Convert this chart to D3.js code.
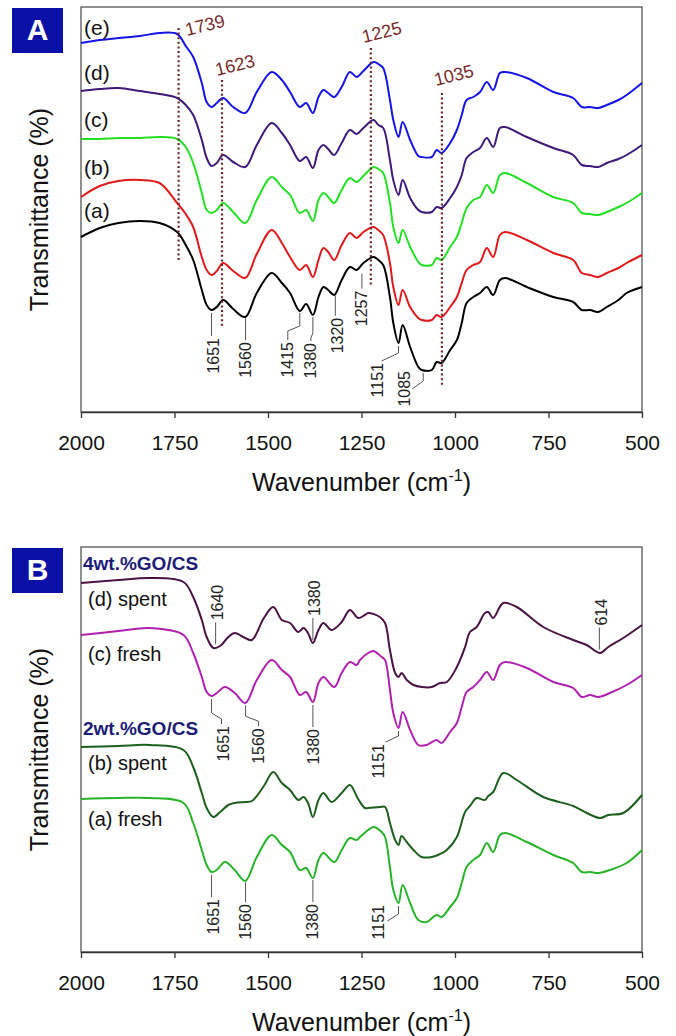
<!DOCTYPE html>
<html>
<head>
<meta charset="utf-8">
<script src="https://cdn.jsdelivr.net/npm/d3@7"></script>
<style>
  html, body { margin: 0; padding: 0; background: #fff; }
  svg { display: block; font-family: "Liberation Sans", Arial, Helvetica, sans-serif; }
</style>
</head>
<body>
<svg id="chart" width="676" height="1036"></svg>
<script>
// ---------- Panel A: FTIR spectra (a)-(e), transmittance in arbitrary offset units ----------
const wnA = [2000,1950,1900,1842,1790,1743,1720,1700,1677,1664,1651,1637,1620,1593,1561,1530,1490,1463,1441,1415,1398,1380,1365,1352,1339,1323,1303,1281,1263,1245,1218,1205,1192,1174,1165,1151,1140,1120,1098,1089,1062,1049,1036,1013,995,982,969,951,933,915,898,880,866,808,737,684,661,639,617,594,563,541,500];
const specA_a = [175,184,189,191,189,180,167,152,122,107,102,105,112,103,95,119,139,129,119,101,108,97,115,125,122,117,132,145,142,149,155,152,147,115,89,69,87,65,45,42,42,50,49,62,72,89,109,115,119,125,117,132,134,125,115,110,102,102,100,105,112,119,125];
const specA_b = [215,226,231,232,229,209,198,185,155,142,137,141,149,141,134,158,182,169,155,142,147,135,152,164,160,152,167,179,174,180,185,182,177,149,125,107,122,105,94,92,92,97,95,105,115,129,142,147,150,164,155,177,180,172,159,152,139,137,135,139,144,149,157];
const specA_c = [273,273,274,274,275,273,265,249,219,202,199,202,209,200,189,212,235,225,217,199,202,191,212,219,215,209,222,234,230,236,245,243,239,209,185,169,182,165,150,147,147,154,152,165,175,189,204,212,215,227,219,237,239,229,215,209,199,198,197,200,205,209,219];
const specA_d = [321,323,324,321,318,314,307,297,272,254,246,249,257,250,245,267,289,279,267,251,255,244,262,267,263,257,269,282,278,284,292,287,284,252,232,217,232,214,202,200,200,205,204,214,225,237,254,260,264,274,265,284,285,275,264,257,247,246,245,249,253,257,267];
const specA_e = [369,372,374,376,379,378,366,355,329,310,305,309,314,305,299,320,340,332,320,305,309,299,315,322,319,315,325,340,335,341,350,348,344,312,292,275,290,272,256,255,255,262,259,269,282,297,312,315,320,330,322,339,340,334,320,314,305,305,304,307,312,317,329];
const namesA = ["(a)", "(b)", "(c)", "(d)", "(e)"];
const markerBandsA = [1739, 1623, 1225, 1035];
const bandsA = [1651, 1560, 1415, 1380, 1320, 1257, 1151, 1085];

// ---------- Panel B: fresh and spent catalysts ----------
const wnFresh = [2000,1900,1816,1726,1700,1677,1664,1651,1637,1615,1589,1561,1530,1490,1463,1441,1415,1398,1380,1365,1352,1323,1303,1281,1263,1254,1232,1218,1196,1187,1174,1165,1151,1140,1120,1098,1076,1049,1036,1013,995,982,969,951,933,915,898,880,866,808,737,684,661,639,617,586,541,500];
const specB_fresh4 = [317,321,324,317,299,275,260,256,259,265,259,249,272,292,282,275,257,260,250,269,275,265,279,290,287,292,299,301,295,292,262,239,224,240,222,207,207,212,209,220,229,245,260,265,272,280,272,287,290,284,270,264,255,257,255,259,267,277];
const specB_fresh2 = [153,154,154,149,129,102,87,80,82,90,82,71,95,117,107,100,82,84,74,92,99,90,102,114,112,115,122,125,120,115,85,62,49,67,49,32,30,37,35,45,54,69,85,92,97,109,100,117,119,110,97,89,80,80,79,82,89,102];
const wnSpent = [2000,1900,1816,1726,1700,1677,1664,1646,1628,1606,1589,1561,1543,1511,1486,1463,1441,1419,1405,1393,1380,1365,1352,1330,1303,1281,1259,1241,1232,1201,1187,1174,1160,1151,1143,1129,1111,1089,1062,1040,1022,995,973,960,942,920,911,898,871,835,764,684,648,612,590,550,500];
const specB_spent4 = [369,372,374,370,355,332,315,304,306,315,319,314,312,334,345,332,329,320,324,319,309,322,329,322,330,342,334,337,339,335,329,302,279,275,279,272,267,265,265,269,270,285,305,320,325,339,340,334,349,345,325,312,307,299,305,314,327];
const specB_spent2 = [205,206,207,202,185,159,144,135,140,147,149,150,151,166,180,169,162,152,155,149,135,152,159,150,159,167,153,144,144,145,145,129,112,107,116,110,102,95,95,98,102,115,140,146,154,152,156,160,179,172,155,146,139,134,137,139,157];
const groupsB = ["4wt.%GO/CS", "2wt.%GO/CS"];
const namesB = ["(d) spent", "(c) fresh", "(b) spent", "(a) fresh"];
const bandsB_spent4 = [1640, 1380, 614];
const bandsB_fresh4 = [1651, 1560, 1380, 1151];
const bandsB_fresh2 = [1651, 1560, 1380, 1151];

const xTicks = [2000, 1750, 1500, 1250, 1000, 750, 500];

// ---------- drawing ----------
const svg = d3.select("#chart");
const FONT_AXIS = 21, FONT_TITLE = 25;

function valueAt(wn, vals, w) {
  for (let i = 0; i < wn.length - 1; i++) {
    if (w <= wn[i] && w >= wn[i + 1]) {
      const t = (wn[i] - w) / (wn[i] - wn[i + 1]);
      return vals[i] + t * (vals[i + 1] - vals[i]);
    }
  }
  return vals[vals.length - 1];
}

function panel(top, bottom, label) {
  const x = d3.scaleLinear().domain([2000, 500]).range([81, 642]);
  const y = d3.scaleLinear().domain([0, 405]).range([bottom, top]);
  const g = svg.append("g");

  // frame
  g.append("rect").attr("x", 81).attr("y", top).attr("width", 561).attr("height", bottom - top)
    .attr("fill", "none").attr("stroke", "#555").attr("stroke-width", 1.3);

  // bottom axis
  const ax = g.append("g").attr("transform", `translate(0,${bottom})`)
    .call(d3.axisBottom(x).tickValues(xTicks).tickSize(6).tickSizeOuter(0).tickPadding(17).tickFormat(d3.format("d")));
  ax.select(".domain").attr("stroke", "#333").attr("stroke-width", 1.6);
  ax.selectAll(".tick line").attr("stroke", "#333").attr("stroke-width", 1.3);
  ax.selectAll(".tick text").attr("font-size", FONT_AXIS).attr("fill", "#111")
    .attr("font-family", "Liberation Sans, Arial, sans-serif");

  // axis titles
  const xt = g.append("text").attr("x", 361.5).attr("y", bottom + 79)
    .attr("text-anchor", "middle").attr("font-size", FONT_TITLE).attr("fill", "#111");
  xt.append("tspan").text("Wavenumber (cm");
  xt.append("tspan").attr("font-size", 16).attr("dy", -10).text("-1");
  xt.append("tspan").attr("dy", 10).text(")");

  g.append("text").attr("transform", `translate(48,${(top + bottom) / 2}) rotate(-90)`)
    .attr("text-anchor", "middle").attr("font-size", FONT_TITLE).attr("fill", "#111")
    .text("Transmittance (%)");

  // panel tag
  g.append("rect").attr("x", 12).attr("y", top + 1).attr("width", 51).attr("height", 45).attr("fill", "#0b10a6");
  g.append("text").attr("x", 37.5).attr("y", top + 33).attr("text-anchor", "middle")
    .attr("font-size", 30).attr("font-weight", "bold").attr("fill", "#fff").text(label);

  return { g, x, y };
}

function spectrum(p, wn, vals, color) {
  const line = d3.line().x((d, i) => p.x(wn[i])).y(d => p.y(d)).curve(d3.curveCatmullRom.alpha(0.5));
  p.g.append("path").datum(vals).attr("d", line).attr("fill", "none")
    .attr("stroke", color).attr("stroke-width", 2).attr("stroke-linejoin", "round");
}

function bandLabel(p, wn, vals, w, spec) {
  const px = p.x(w), py = p.y(valueAt(wn, vals, w));
  const pts = spec.path.map(([dx, dy]) => [px + dx, py + dy]);
  p.g.append("path").attr("d", d3.line()(pts)).attr("fill", "none")
    .attr("stroke", "#555").attr("stroke-width", 1);
  p.g.append("text").attr("transform", `translate(${px + spec.t[0]},${py + spec.t[1]}) rotate(-90)`)
    .attr("text-anchor", spec.up ? "start" : "end").attr("dy", "0.35em")
    .attr("font-size", 16).attr("fill", "#222").text(w);
}

// ----- Panel A -----
const A = panel(7, 412, "A");
const colorsA = ["#000000", "#e0191b", "#22e022", "#3f1a7a", "#1414e6"];
[specA_a, specA_b, specA_c, specA_d, specA_e].forEach((s, i) => spectrum(A, wnA, s, colorsA[i]));

// dotted reference lines with slanted labels
const markerLayout = {
  1739: { top: 28, bottom: 260, lx: 8.5, ly: 8 },
  1623: { top: 80, bottom: 327, lx: -5, ly: -4 },
  1225: { top: 48, bottom: 287, lx: -7, ly: -5 },
  1035: { top: 93, bottom: 387, lx: -6, ly: -7 }
};
markerBandsA.forEach(w => {
  const m = markerLayout[w], px = A.x(w);
  A.g.append("line").attr("x1", px).attr("x2", px).attr("y1", m.top).attr("y2", m.bottom)
    .attr("stroke", "#6e2626").attr("stroke-width", 2.2).attr("stroke-dasharray", "2,2.6");
  A.g.append("text").attr("transform", `translate(${px + m.lx},${m.top + m.ly}) rotate(-14)`)
    .attr("font-size", 18).attr("fill", "#7a2a2a").text(w);
});

// band assignments on spectrum (a)
const bandLayoutA = {
  1651: { path: [[0, 3], [0, 26]], t: [1.5, 28] },
  1560: { path: [[0, 2], [0, 24]], t: [0, 26] },
  1415: { path: [[0, 2], [0, 15], [-12, 20], [-12, 29]], t: [-12.5, 31] },
  1380: { path: [[0, 2], [0, 18], [-2, 23], [-2, 26]], t: [-2, 28] },
  1320: { path: [[0, 3], [0, 23]], t: [2, 25] },
  1257: { path: [[3, 6], [3, 21]], t: [2.5, 23] },
  1151: { path: [[0, 3], [0, 10], [-17, 18]], t: [-21, 20] },
  1085: { path: [[0, 3], [0, 11], [-11, 19]], t: [-19, 1] }
};
bandsA.forEach(w => bandLabel(A, wnA, specA_a, w, bandLayoutA[w]));

// curve names
const nameYA = [218, 175, 127, 80, 35];
namesA.forEach((n, i) => A.g.append("text").attr("x", 84).attr("y", nameYA[i])
  .attr("font-size", 21).attr("fill", "#111").text(n));

// ----- Panel B -----
const B = panel(547, 952, "B");
spectrum(B, wnSpent, specB_spent4, "#4a1245");
spectrum(B, wnFresh, specB_fresh4, "#b020b0");
spectrum(B, wnSpent, specB_spent2, "#1d5f1d");
spectrum(B, wnFresh, specB_fresh2, "#28b428");

const groupY = [570, 735];
groupsB.forEach((t, i) => B.g.append("text").attr("x", 83).attr("y", groupY[i])
  .attr("font-size", 19).attr("font-weight", "bold").attr("fill", "#1c1c78").text(t));
const nameYB = [606, 661, 770, 826];
namesB.forEach((n, i) => B.g.append("text").attr("x", 88).attr("y", nameYB[i])
  .attr("font-size", 20).attr("fill", "#111").text(n));

const upLeader = { path: [[0, -3], [0, -25]], t: [2, -27], up: true };
bandsB_spent4.forEach(w => bandLabel(B, wnSpent, specB_spent4, w, upLeader));

const bandLayoutB4 = {
  1651: { path: [[0, 3], [0, 17], [10, 23], [10, 28]], t: [12, 30] },
  1560: { path: [[0, 3], [0, 14], [13, 19], [13, 24]], t: [13, 26] },
  1380: { path: [[0, 3], [0, 25]], t: [1, 27] },
  1151: { path: [[0, 3], [0, 8], [-13, 14]], t: [-20, 16] }
};
bandsB_fresh4.forEach(w => bandLabel(B, wnFresh, specB_fresh4, w, bandLayoutB4[w]));

const bandLayoutB2 = {
  1651: { path: [[0, 3], [0, 25]], t: [1.5, 27] },
  1560: { path: [[0, 2], [0, 22]], t: [0, 24] },
  1380: { path: [[0, 2], [0, 24]], t: [0, 26] },
  1151: { path: [[0, 3], [0, 11], [-11, 18]], t: [-20, 2] }
};
bandsB_fresh2.forEach(w => bandLabel(B, wnFresh, specB_fresh2, w, bandLayoutB2[w]));
</script>
</body>
</html>
